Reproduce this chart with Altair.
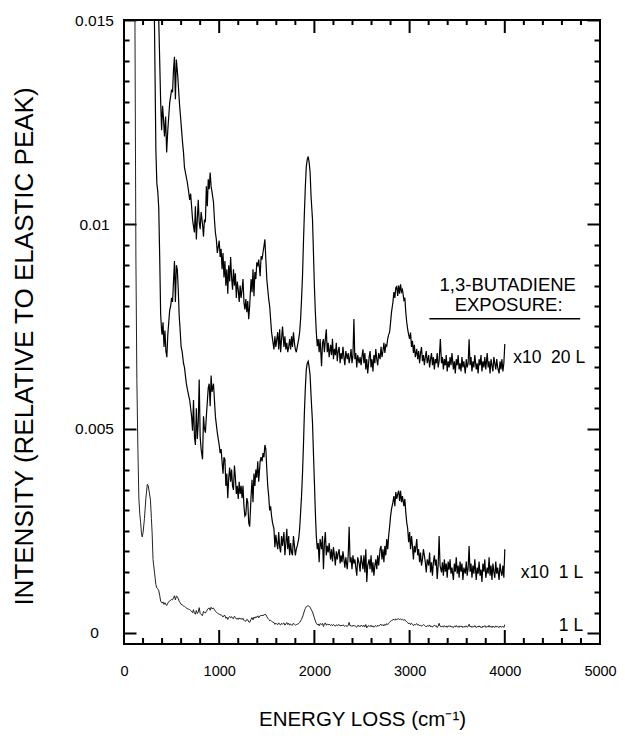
import altair as alt
import pandas as pd

# ---------------- data ----------------
# 1 L exposure spectrum: energy loss (cm-1) and intensity in units of 1e-4
energy_1L = [
    105, 115, 125, 135, 146, 156, 166, 175, 183, 191,
    200, 215, 230, 245, 255, 265, 278, 288, 295, 305,
    320, 335, 345, 355, 365, 375, 385, 395, 400, 410,
    420, 430, 440, 450, 460, 470, 480, 490, 500, 510,
    520, 530, 540, 550, 560, 570, 580, 590, 600, 610,
    625, 635, 645, 655, 665, 680, 690, 700, 710, 720,
    730, 740, 750, 760, 770, 780, 790, 800, 810, 825,
    835, 845, 855, 865, 875, 885, 895, 905, 915, 925,
    940, 950, 960, 970, 980, 990, 1000, 1010, 1020, 1030,
    1040, 1050, 1060, 1070, 1080, 1090, 1100, 1110, 1120, 1130,
    1140, 1150, 1160, 1170, 1180, 1190, 1200, 1210, 1220, 1230,
    1240, 1250, 1260, 1270, 1280, 1290, 1300, 1310, 1320, 1335,
    1345, 1355, 1365, 1375, 1385, 1395, 1405, 1415, 1430, 1440,
    1450, 1460, 1470, 1480, 1490, 1500, 1510, 1520, 1530, 1540,
    1550, 1560, 1575, 1585, 1595, 1605, 1615, 1625, 1635, 1645,
    1655, 1665, 1680, 1690, 1700, 1710, 1720, 1730, 1740, 1750,
    1760, 1770, 1780, 1790, 1800, 1810, 1820, 1835, 1845, 1855,
    1865, 1875, 1885, 1895, 1905, 1915, 1925, 1935, 1945, 1955,
    1965, 1980, 1990, 2000, 2010, 2020, 2030, 2040, 2050, 2060,
    2075, 2085, 2095, 2105, 2115, 2125, 2135, 2145, 2155, 2170,
    2180, 2190, 2200, 2210, 2220, 2230, 2240, 2250, 2260, 2270,
    2280, 2290, 2300, 2310, 2320, 2330, 2345, 2355, 2365, 2375,
    2385, 2395, 2405, 2415, 2425, 2435, 2445, 2455, 2470, 2480,
    2490, 2500, 2510, 2520, 2530, 2540, 2550, 2560, 2575, 2585,
    2595, 2605, 2615, 2625, 2635, 2645, 2655, 2665, 2675, 2690,
    2700, 2710, 2720, 2730, 2740, 2750, 2760, 2770, 2780, 2790,
    2800, 2810, 2825, 2835, 2845, 2855, 2865, 2875, 2885, 2895,
    2905, 2915, 2925, 2940, 2950, 2960, 2970, 2980, 2990, 3000,
    3010, 3020, 3030, 3040, 3050, 3060, 3075, 3085, 3095, 3105,
    3115, 3125, 3135, 3145, 3155, 3165, 3175, 3185, 3200, 3210,
    3220, 3230, 3240, 3250, 3260, 3270, 3280, 3290, 3300, 3310,
    3320, 3335, 3345, 3355, 3365, 3375, 3385, 3395, 3405, 3415,
    3425, 3435, 3445, 3460, 3470, 3480, 3490, 3500, 3510, 3520,
    3530, 3540, 3550, 3560, 3570, 3585, 3595, 3605, 3615, 3625,
    3635, 3645, 3655, 3665, 3675, 3685, 3700, 3710, 3720, 3730,
    3740, 3750, 3760, 3770, 3780, 3790, 3800, 3815, 3825, 3835,
    3845, 3855, 3865, 3875, 3885, 3895, 3905, 3915, 3925, 3940,
    3950, 3960, 3970, 3980, 3990, 4000,
]
intensity_1L = [
    400, 150, 92, 62, 45, 33, 29, 27, 24.5, 23.5,
    24.5, 28, 33, 36.4, 36, 34.5, 32.5, 28, 24.7, 18,
    14.9, 11.8, 11.0, 10.8, 10.4, 9.2, 7.8, 7.4, 7.3, 7.6,
    7.0, 7.4, 6.9, 6.75, 7.3, 7.6, 7.9, 8.0, 8.2, 8.1,
    8.6, 9.1, 8.1, 9.0, 8.9, 8.4, 7.75, 7.4, 7.0, 6.9,
    6.6, 6.5, 6.3, 6.1, 5.97, 5.8, 5.7, 5.5, 5.3, 4.95,
    5.7, 4.8, 4.6, 5.5, 4.75, 5.15, 6.2, 4.8, 4.5, 4.25,
    5.3, 5.0, 4.9, 5.3, 5.65, 6.0, 6.1, 5.55, 6.3, 5.9,
    6.1, 5.7, 5.3, 5.1, 4.9, 4.75, 4.6, 4.4, 4.5, 4.2,
    3.9, 4.3, 4.25, 3.6, 3.9, 3.3, 3.8, 4.05, 3.7, 4.0,
    3.6, 3.5, 4.1, 3.8, 3.4, 3.6, 3.28, 3.7, 3.4, 3.6,
    3.3, 3.6, 3.1, 2.86, 2.9, 3.3, 3.2, 2.7, 2.6, 3.35,
    3.75, 3.2, 3.9, 3.6, 4.0, 3.8, 4.2, 3.7, 4.2, 4.3,
    4.2, 4.4, 4.3, 4.6, 4.5, 4.0, 3.6, 3.35, 3.0, 3.1,
    2.86, 2.7, 2.55, 2.1, 2.4, 2.2, 2.05, 2.47, 2.1, 1.97,
    2.37, 2.13, 2.47, 1.9, 2.2, 2.55, 2.05, 2.37, 1.9, 2.2,
    1.97, 1.9, 2.37, 2.13, 1.9, 2.05, 2.13, 2.3, 2.55, 2.95,
    3.35, 3.9, 4.6, 5.4, 6.0, 6.45, 6.6, 6.65, 6.5, 6.3,
    5.8, 5.15, 4.4, 3.7, 2.95, 2.37, 2.05, 2.2, 1.73, 2.3,
    2.05, 2.37, 1.56, 2.2, 2.47, 1.9, 2.13, 1.97, 2.2, 1.8,
    2.05, 1.75, 2.1, 1.9, 1.65, 2.0, 1.8, 1.95, 2.05, 1.7,
    1.9, 1.73, 2.0, 1.8, 1.6, 1.85, 1.56, 1.9, 2.6, 1.73,
    1.85, 1.56, 1.9, 1.7, 1.8, 1.6, 1.4, 1.85, 1.7, 1.5,
    1.9, 1.73, 1.56, 1.9, 1.48, 2.05, 1.25, 1.65, 1.8, 1.56,
    1.9, 1.48, 1.73, 1.4, 1.65, 1.8, 1.56, 1.9, 1.65, 2.05,
    2.13, 1.8, 2.05, 1.73, 2.13, 1.9, 2.3, 2.05, 2.37, 2.6,
    2.86, 3.03, 3.2, 3.35, 3.1, 3.45, 3.28, 3.4, 3.48, 3.23,
    3.48, 3.2, 3.35, 3.1, 3.28, 2.95, 2.7, 2.55, 2.22, 2.47,
    2.05, 2.37, 2.13, 1.8, 2.13, 1.97, 2.3, 1.9, 2.05, 1.73,
    1.97, 1.65, 1.8, 2.05, 1.9, 1.73, 1.48, 1.8, 1.65, 1.97,
    1.48, 1.73, 1.4, 1.73, 1.9, 1.65, 1.8, 1.32, 1.65, 2.37,
    1.65, 1.48, 1.73, 1.4, 1.8, 1.5, 1.7, 1.35, 1.75, 1.55,
    1.8, 1.45, 1.6, 1.3, 1.7, 1.5, 1.85, 1.45, 1.65, 1.35,
    1.75, 1.5, 1.7, 1.3, 1.6, 1.45, 1.75, 1.4, 1.6, 2.13,
    1.5, 1.7, 1.35, 1.65, 1.45, 1.8, 1.3, 1.6, 1.45, 1.75,
    1.4, 1.55, 1.25, 1.7, 1.5, 1.8, 1.35, 1.6, 1.45, 1.85,
    1.4, 1.65, 1.3, 1.7, 1.5, 1.35, 1.75, 1.45, 1.6, 1.3,
    1.7, 1.5, 1.4, 1.65, 1.35, 2.05,
]

# 20 L exposure spectrum (intensity in units of 1e-4)
energy_20L = [
    340, 355, 365, 375, 385, 395, 405, 415, 425, 437,
    448, 460, 470, 480, 490, 500, 510, 520, 530, 540,
    550, 565, 575, 585, 595, 605, 615, 625, 635, 645,
    655, 665, 680, 690, 700, 710, 720, 730, 740, 750,
    760, 770, 780, 790, 800, 810, 825, 835, 845, 855,
    865, 875, 885, 895, 905, 915, 925, 940, 950, 960,
    970, 980, 990, 1000, 1010, 1020, 1030, 1040, 1050, 1060,
    1070, 1080, 1090, 1100, 1110, 1120, 1130, 1140, 1150, 1160,
    1170, 1180, 1190, 1200, 1210, 1220, 1230, 1240, 1250, 1260,
    1270, 1280, 1290, 1300, 1310, 1320, 1335, 1345, 1355, 1365,
    1375, 1385, 1395, 1405, 1415, 1430, 1440, 1450, 1460, 1470,
    1480, 1490, 1500, 1510, 1520, 1530, 1540, 1550, 1560, 1575,
    1585, 1595, 1605, 1615, 1625, 1635, 1645, 1655, 1665, 1680,
    1690, 1700, 1710, 1720, 1730, 1740, 1750, 1760, 1770, 1780,
    1790, 1800, 1810, 1820, 1835, 1845, 1855, 1865, 1875, 1885,
    1895, 1905, 1915, 1925, 1935, 1945, 1955, 1965, 1980, 1990,
    2000, 2010, 2020, 2030, 2040, 2050, 2060, 2075, 2085, 2095,
    2105, 2115, 2125, 2135, 2145, 2155, 2170, 2180, 2190, 2200,
    2210, 2220, 2230, 2240, 2250, 2260, 2270, 2280, 2290, 2300,
    2310, 2320, 2330, 2345, 2355, 2365, 2375, 2385, 2395, 2405,
    2415, 2425, 2435, 2445, 2455, 2470, 2480, 2490, 2500, 2510,
    2520, 2530, 2540, 2550, 2560, 2575, 2585, 2595, 2605, 2615,
    2625, 2635, 2645, 2655, 2665, 2675, 2690, 2700, 2710, 2720,
    2730, 2740, 2750, 2760, 2770, 2780, 2790, 2800, 2810, 2825,
    2835, 2845, 2855, 2865, 2875, 2885, 2895, 2905, 2915, 2925,
    2940, 2950, 2960, 2970, 2980, 2990, 3000, 3010, 3020, 3030,
    3040, 3050, 3060, 3075, 3085, 3095, 3105, 3115, 3125, 3135,
    3145, 3155, 3165, 3175, 3185, 3200, 3210, 3220, 3230, 3240,
    3250, 3260, 3270, 3280, 3290, 3300, 3310, 3323, 3335, 3345,
    3355, 3365, 3375, 3385, 3395, 3405, 3415, 3425, 3435, 3445,
    3460, 3470, 3480, 3490, 3500, 3510, 3520, 3530, 3540, 3550,
    3560, 3570, 3585, 3595, 3605, 3615, 3625, 3635, 3645, 3655,
    3665, 3675, 3685, 3700, 3710, 3720, 3730, 3740, 3750, 3760,
    3770, 3780, 3790, 3800, 3815, 3825, 3835, 3845, 3855, 3865,
    3875, 3885, 3895, 3905, 3915, 3925, 3940, 3950, 3960, 3970,
    3980, 3990, 4000,
]
intensity_20L = [
    14, 11.5, 10.0, 9.0, 8.0, 7.3, 7.9, 7.57, 7.15, 7.64,
    6.76, 7.3, 7.64, 7.98, 8.13, 8.3, 8.23, 8.79, 9.1, 8.06,
    9.03, 8.62, 8.23, 7.88, 7.6, 7.3, 7.0, 6.76, 6.4, 6.27,
    6.15, 6.03, 5.78, 5.6, 5.75, 5.44, 5.12, 4.95, 4.8, 5.44,
    4.63, 5.12, 5.6, 5.05, 4.88, 5.3, 5.0, 4.7, 5.12, 5.05,
    5.93, 5.44, 6.1, 5.86, 6.27, 5.93, 5.78, 5.54, 5.12, 4.8,
    4.63, 4.3, 4.45, 4.6, 4.2, 4.4, 3.9, 4.3, 3.7, 4.1,
    3.5, 3.9, 3.3, 4.0, 3.6, 4.2, 3.7, 3.4, 3.9, 3.5,
    3.8, 3.2, 3.6, 3.4, 3.1, 3.5, 3.2, 3.4, 3.66, 3.09,
    2.92, 3.17, 2.85, 3.12, 2.68, 3.0, 3.66, 3.34, 3.9, 3.24,
    3.83, 3.66, 4.07, 3.97, 4.14, 3.73, 4.22, 4.14, 4.31, 4.46,
    4.63, 4.14, 3.66, 3.41, 3.17, 3.0, 2.68, 2.36, 2.19, 1.94,
    2.26, 2.0, 2.19, 2.36, 1.94, 2.43, 1.87, 2.19, 2.5, 2.0,
    2.26, 1.94, 2.1, 1.87, 2.0, 2.19, 1.94, 2.26, 2.0, 2.36,
    2.1, 1.94, 1.87, 2.0, 2.19, 2.36, 2.68, 3.17, 3.73, 4.56,
    5.29, 5.93, 6.42, 6.59, 6.66, 6.51, 6.27, 5.68, 5.12, 4.31,
    3.48, 2.85, 2.36, 2.02, 2.19, 1.87, 2.19, 1.53, 2.1, 2.19,
    1.87, 2.19, 2.43, 1.87, 2.1, 1.75, 2.05, 1.8, 2.2, 1.7,
    1.95, 1.8, 2.1, 1.65, 1.9, 2.0, 1.6, 1.85, 1.7, 2.0,
    1.75, 1.55, 1.9, 1.7, 1.85, 1.6, 1.75, 1.95, 1.6, 1.8,
    2.68, 1.7, 1.85, 1.5, 1.8, 1.6, 1.75, 1.55, 1.77, 1.94,
    1.6, 1.85, 1.45, 1.7, 1.35, 1.75, 1.9, 1.5, 1.7, 1.4,
    1.8, 1.6, 1.95, 1.7, 1.55, 1.85, 1.7, 2.0, 1.75, 1.9,
    2.1, 1.85, 2.05, 2.02, 2.2, 2.3, 2.36, 2.6, 2.85, 3.1,
    3.34, 3.2, 3.45, 3.48, 3.25, 3.5, 3.3, 3.53, 3.35, 3.4,
    3.15, 3.2, 2.85, 2.6, 2.43, 2.3, 2.2, 2.35, 2.0, 2.15,
    1.85, 2.05, 1.75, 1.95, 1.7, 1.9, 1.6, 1.85, 2.0, 1.65,
    1.8, 1.55, 1.75, 1.9, 1.6, 1.8, 1.5, 1.7, 1.85, 1.55,
    1.75, 1.45, 1.7, 1.6, 1.85, 1.5, 1.65, 2.19, 1.6, 1.75,
    1.45, 1.7, 1.55, 1.8, 1.4, 1.65, 1.5, 1.75, 1.55, 1.85,
    1.45, 1.65, 1.35, 1.7, 1.55, 1.8, 1.45, 1.6, 1.4, 1.75,
    1.5, 1.65, 1.35, 1.7, 1.5, 1.6, 2.19, 1.55, 1.75, 1.4,
    1.65, 1.5, 1.8, 1.45, 1.6, 1.35, 1.7, 1.55, 1.8, 1.4,
    1.65, 1.5, 1.75, 1.45, 1.85, 1.5, 1.65, 1.35, 1.7, 1.55,
    1.4, 1.75, 1.6, 1.45, 1.7, 1.5, 1.35, 1.65, 1.45, 1.7,
    1.4, 1.6, 2.07,
]

# display factors (as printed on the figure)
UNIT = 1e-4          # intensity unit of the arrays
SCALE_X10 = 10       # "x10" curves
OFFSET_20L = 0.005   # vertical offset of the 20 L trace

# annotations
header_text = ["1,3-BUTADIENE", "EXPOSURE:"]
header_x = [4031, 4040]
header_y = [0.00852, 0.00803]
rule_x, rule_x2, rule_y = [3208], [4792], [0.00769]
series_text = ["x10\u00a0\u00a020 L", "x10\u00a0\u00a01 L", "1 L"]
series_x = [4844, 4823, 4823]
series_y = [0.00673, 0.00147, 0.00017]

# axis ticks
x_major = [0, 1000, 2000, 3000, 4000, 5000]
x_minor = [v for v in range(200, 5000, 200) if v % 1000 != 0]
y_major = [0, 0.005, 0.01, 0.015]
y_minor = [round(i * 0.0005, 4) for i in range(1, 30) if i % 10 != 0]
X_DOMAIN = [0, 5000]
Y_DOMAIN = [-0.00027, 0.015]

# ---------------- build ----------------
assert len(energy_1L) == len(intensity_1L)
assert len(energy_20L) == len(intensity_20L)

df1 = pd.DataFrame({"x": energy_1L, "v": intensity_1L})
df1["raw"] = df1["v"] * UNIT
df1["x10"] = df1["v"] * UNIT * SCALE_X10
df20 = pd.DataFrame({"x": energy_20L, "v": intensity_20L})
df20["y"] = df20["v"] * UNIT * SCALE_X10 + OFFSET_20L

W, H = 476, 624
FONT = "Liberation Sans"
TICK_W = 2
xs = alt.Scale(domain=X_DOMAIN, nice=False, zero=False)
ys = alt.Scale(domain=Y_DOMAIN, nice=False, zero=False)
Y_PER_PX = (Y_DOMAIN[1] - Y_DOMAIN[0]) / H


def tick_axis(orient, values, size, offset):
    # tick-only axis, moved across the plot so that its ticks point inward
    return alt.Axis(
        orient=orient, values=values, offset=offset, tickSize=size,
        tickWidth=TICK_W, tickColor="black", ticks=True,
        labels=False, domain=False, grid=False, title=None,
    )


def x_edge_tick_table():
    # short vertical segments (two points each) along the bottom and top frame edges
    rows = []
    specs = [
        (x_major, "bottom", 14), (x_minor, "bottom", 6),
        (x_major, "top", 13), (x_minor, "top", 5),
    ]
    for values, edge, length in specs:
        if edge == "bottom":
            y0, y1 = Y_DOMAIN[0], Y_DOMAIN[0] + length * Y_PER_PX
        else:
            y0, y1 = Y_DOMAIN[1], Y_DOMAIN[1] - length * Y_PER_PX
        for v in values:
            key = f"{edge}-{v}"
            rows.append({"tv": v, "ty": y0, "k": 0, "id": key})
            rows.append({"tv": v, "ty": y1, "k": 1, "id": key})
    return pd.DataFrame(rows)


x_axis_labels = alt.Axis(
    orient="bottom", values=x_major, ticks=False, grid=False, domain=False,
    labelExpr="format(datum.value, 'd')",
    labelFont=FONT, labelFontSize=14.5, labelColor="black",
    labelPadding=27, labelBaseline="middle", labelAlign="center",
    labelFlush=False, labelOverlap=False,
    title="ENERGY LOSS (cm\u207b\u00b9)", titleFont=FONT, titleFontSize=20.5,
    titleFontWeight="normal", titleColor="black",
    titleX=W / 2, titleY=81, titleBaseline="alphabetic", titleAlign="center",
)
y_axis_labels = alt.Axis(
    orient="left", values=y_major, ticks=False, grid=False, domain=False,
    labelExpr="format(datum.value, '~g')",
    labelFont=FONT, labelFontSize=15.5, labelColor="black",
    labelPadding=30, labelBaseline="middle", labelAlign="center",
    labelFlush=False, labelOverlap=False,
    title="INTENSITY (RELATIVE TO ELASTIC PEAK)", titleFont=FONT, titleFontSize=26,
    titleFontWeight="normal", titleColor="black",
    titleAngle=-90, titleX=-92, titleY=326, titleBaseline="alphabetic", titleAlign="center",
)

LINE_W = 1.2

bottom = alt.Chart(df1).mark_line(clip=True, color="#222222", strokeWidth=1).encode(
    x=alt.X("x:Q", scale=xs, axis=x_axis_labels),
    y=alt.Y("raw:Q", scale=ys, axis=y_axis_labels),
)
# y major ticks on the left edge
middle = alt.Chart(df1).mark_line(clip=True, color="black", strokeWidth=LINE_W).encode(
    x=alt.X("x:Q", scale=xs, axis=None),
    y=alt.Y("x10:Q", scale=ys, axis=tick_axis("right", y_major, 12, -W)),
)
# y major ticks on the right edge
top = alt.Chart(df20).mark_line(clip=True, color="black", strokeWidth=LINE_W).encode(
    x=alt.X("x:Q", scale=xs, axis=None),
    y=alt.Y("y:Q", scale=ys, axis=tick_axis("left", y_major, 13, -W)),
)
# y minor ticks on the left edge
header = alt.Chart(pd.DataFrame({"t": header_text, "x": header_x, "y": header_y})).mark_text(
    font=FONT, fontSize=18.5, color="black", align="center", baseline="middle"
).encode(
    x=alt.X("x:Q", scale=xs, axis=None),
    y=alt.Y("y:Q", scale=ys, axis=tick_axis("right", y_minor, 5, -W)),
    text="t:N",
)
underline = alt.Chart(pd.DataFrame({"x": rule_x, "x2": rule_x2, "y": rule_y})).mark_rule(
    color="black", strokeWidth=1.5
).encode(
    x=alt.X("x:Q", scale=xs, axis=None),
    x2="x2:Q",
    y=alt.Y("y:Q", scale=ys, axis=None),
)
# y minor ticks on the right edge
series_labels = alt.Chart(pd.DataFrame({"t": series_text, "x": series_x, "y": series_y})).mark_text(
    font=FONT, fontSize=17.5, color="black", align="right", baseline="middle"
).encode(
    x=alt.X("x:Q", scale=xs, axis=None),
    y=alt.Y("y:Q", scale=ys, axis=tick_axis("left", y_minor, 6, -W)),
    text="t:N",
)

# x ticks along the bottom and top frame edges, drawn as short line segments
x_ticks = alt.Chart(x_edge_tick_table()).mark_line(color="black", strokeWidth=TICK_W).encode(
    x=alt.X("tv:Q", scale=xs, axis=None),
    y=alt.Y("ty:Q", scale=ys, axis=None),
    detail="id:N",
    order="k:Q",
)

chart = (
    alt.layer(bottom, middle, top, header, underline, series_labels, x_ticks)
    .resolve_axis(x="independent", y="independent")
    .resolve_scale(x="shared", y="shared")
    .properties(
        width=W, height=H, background="white",
        padding={"left": 3, "top": 5, "right": 0, "bottom": 0},
    )
    .configure_view(stroke="black", strokeWidth=2)
)

chart.save("out.html", embed_options={"renderer": "svg", "actions": False})
